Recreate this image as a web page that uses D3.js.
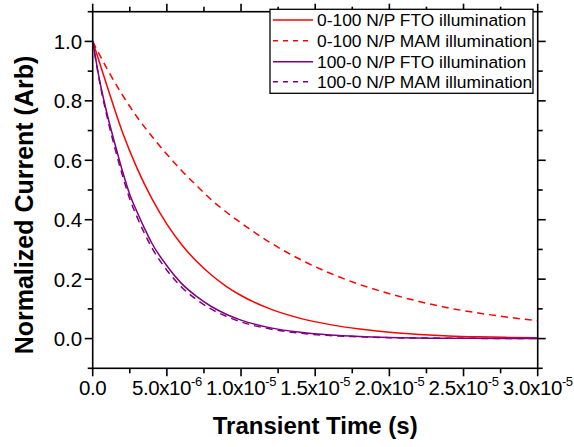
<!DOCTYPE html>
<html><head><meta charset="utf-8">
<script src="https://cdn.jsdelivr.net/npm/d3@7"></script>
<style>body{margin:0;background:#fff}svg{display:block}text{font-family:Arial,"Liberation Sans",sans-serif}</style>
</head><body>
<svg id="c" width="574" height="447"></svg>
<script>
// time in microseconds
const seriesNames = ["0-100 N/P FTO illumination","0-100 N/P MAM illumination","100-0 N/P FTO illumination","100-0 N/P MAM illumination"];
const seriesColors = ["#ff0000","#ff0000","#800080","#800080"];
const seriesDashed = [false,true,false,true];

const tRed = [0,1,2,3,4,5,6,7,8,9,10,12,14,16,18,20,22,24,26,28,30];
const redFTO = [1.00,0.845,0.695,0.572,0.47,0.385,0.316,0.26,0.214,0.176,0.145,0.099,0.068,0.047,0.032,0.021,0.014,0.009,0.006,0.004,0.003];
const redMAM = [1.00,0.905,0.82,0.745,0.68,0.62,0.565,0.515,0.467,0.426,0.389,0.322,0.266,0.22,0.182,0.151,0.125,0.103,0.086,0.072,0.060];

const tPur = [0,0.5,1,1.5,2,2.5,3,3.5,4,5,6,7,8,9,10,12,14,16,18,20,25,30];
const purFTO = [1.00,0.86,0.75,0.655,0.565,0.485,0.425,0.37,0.32,0.245,0.185,0.142,0.108,0.082,0.062,0.036,0.021,0.012,0.007,0.004,0.001,0.0];
const purMAM = [1.00,0.855,0.74,0.64,0.55,0.47,0.408,0.353,0.305,0.23,0.173,0.131,0.099,0.075,0.056,0.032,0.018,0.010,0.006,0.003,0.001,0.0];

const xMajor = [0,5,10,15,20,25,30];
const xMinor = [2.5,7.5,12.5,17.5,22.5,27.5];
const xLabelMant = ["0.0","5.0x10","1.0x10","1.5x10","2.0x10","2.5x10","3.0x10"];
const xLabelExp = ["","-6","-5","-5","-5","-5","-5"];
const yMajor = [0,0.2,0.4,0.6,0.8,1.0];
const yMinor = [-0.1,0.1,0.3,0.5,0.7,0.9,1.1];
const yLabels = ["0.0","0.2","0.4","0.6","0.8","1.0"];

const seriesT = [tRed,tRed,tPur,tPur];
const seriesV = [redFTO,redMAM,purFTO,purMAM];

const L=92.7,R=537.7,T=11.7,B=368.3;
const x = d3.scaleLinear().domain([0,30]).range([L,R]);
const y = d3.scaleLinear().domain([-0.1,1.1]).range([B,T]);
const svg = d3.select("#c");

// curves
const line = d3.line().curve(d3.curveMonotoneX);
seriesV.forEach((vals,i)=>{
  const pts = vals.map((v,j)=>[x(seriesT[i][j]), y(v)]);
  svg.append("path").attr("d", line(pts)).attr("fill","none")
    .attr("stroke", seriesColors[i]).attr("stroke-width",1.5)
    .attr("stroke-dasharray", seriesDashed[i] ? "7,5" : null);
});

// axes
const ax = svg.append("g").attr("stroke","#000").attr("stroke-width",1.6);
ax.append("rect").attr("x",L).attr("y",T).attr("width",R-L).attr("height",B-T).attr("fill","none");
xMajor.forEach(t=>{
  ax.append("line").attr("x1",x(t)).attr("x2",x(t)).attr("y1",B).attr("y2",B+8);
  ax.append("line").attr("x1",x(t)).attr("x2",x(t)).attr("y1",T).attr("y2",T-8);
});
xMinor.forEach(t=>{
  ax.append("line").attr("x1",x(t)).attr("x2",x(t)).attr("y1",B).attr("y2",B+5);
  ax.append("line").attr("x1",x(t)).attr("x2",x(t)).attr("y1",T).attr("y2",T-5);
});
yMajor.forEach(v=>{
  ax.append("line").attr("x1",L).attr("x2",L-8).attr("y1",y(v)).attr("y2",y(v));
  ax.append("line").attr("x1",R).attr("x2",R+8).attr("y1",y(v)).attr("y2",y(v));
});
yMinor.forEach(v=>{
  ax.append("line").attr("x1",L).attr("x2",L-5).attr("y1",y(v)).attr("y2",y(v));
  ax.append("line").attr("x1",R).attr("x2",R+5).attr("y1",y(v)).attr("y2",y(v));
});

// tick labels
yMajor.forEach((v,i)=>{
  svg.append("text").attr("x",L-10.5).attr("y",y(v)).attr("dy","0.36em")
    .attr("text-anchor","end").attr("font-size",20.5).text(yLabels[i]);
});
xMajor.forEach((t,i)=>{
  const tx = svg.append("text").attr("x",x(t)).attr("y",395)
    .attr("text-anchor","middle").attr("font-size",20.5).attr("letter-spacing",-0.4);
  tx.append("tspan").text(xLabelMant[i]);
  if (xLabelExp[i]) tx.append("tspan").attr("font-size",13).attr("dy",-9).text(xLabelExp[i]);
});

// axis titles
svg.append("text").attr("x",(L+R)/2).attr("y",434).attr("text-anchor","middle")
  .attr("font-size",24).attr("font-weight","bold").text("Transient Time (s)");
svg.append("text").attr("transform","translate(33,205) rotate(-90)").attr("text-anchor","middle")
  .attr("font-size",25).attr("font-weight","bold").text("Normalized Current (Arb)");

// legend
const lg = svg.append("g");
lg.append("rect").attr("x",270).attr("y",9.3).attr("width",263).attr("height",84)
  .attr("fill","#fff").attr("stroke","#000").attr("stroke-width",1.3);
const rowY = [20,40.7,61.7,81.7];
seriesNames.forEach((n,i)=>{
  lg.append("line").attr("x1",273).attr("x2",313).attr("y1",rowY[i]).attr("y2",rowY[i])
    .attr("stroke",seriesColors[i]).attr("stroke-width",1.5)
    .attr("stroke-dasharray", seriesDashed[i] ? "5,5" : null);
  lg.append("text").attr("x",317).attr("y",rowY[i]).attr("dy","0.36em")
    .attr("font-size",17.4).text(n);
});
</script>
</body></html>
